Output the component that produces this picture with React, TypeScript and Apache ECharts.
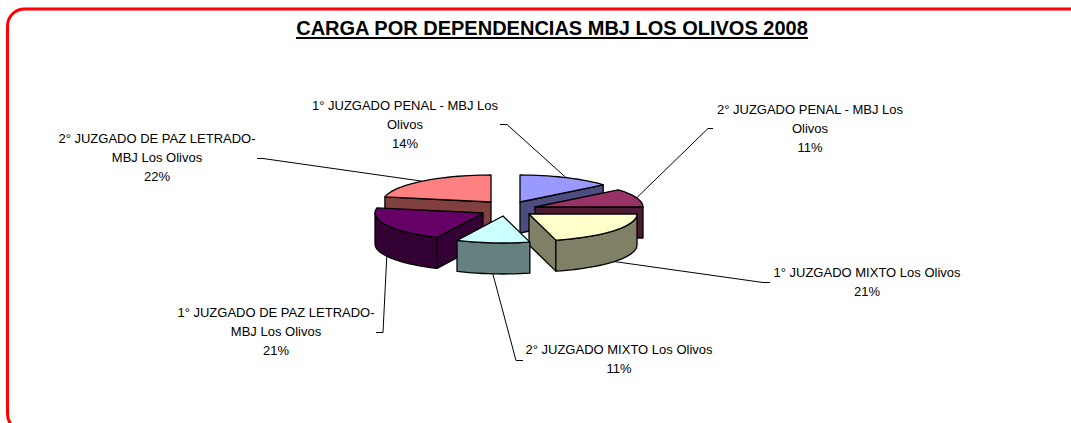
import React, { useEffect, useRef } from "react";
import * as echarts from "echarts";

const TITLE = "CARGA POR DEPENDENCIAS MBJ LOS OLIVOS 2008";
const NAMES = [
  "1° JUZGADO PENAL - MBJ Los\nOlivos",
  "2° JUZGADO PENAL - MBJ Los\nOlivos",
  "1° JUZGADO MIXTO Los Olivos",
  "2° JUZGADO MIXTO Los Olivos",
  "1° JUZGADO DE PAZ LETRADO-\nMBJ Los Olivos",
  "2° JUZGADO DE PAZ LETRADO-\nMBJ Los Olivos",
];
const VALUES = [14, 11, 21, 11, 21, 22];
const TOP_COLORS = ["#9999FF", "#993366", "#FFFFCC", "#CCFFFF", "#660066", "#FF8080"];
const SIDE_COLORS = ["#4D4D80", "#4D1A33", "#808066", "#668080", "#330033", "#804040"];

// layout: exploded apex of each slice, label centre, leader elbow points
const APEX = [[520, 202], [535, 207], [529, 214], [503, 216], [483, 213], [491, 202]];
const LABEL_POS = [[405, 124.5], [810, 128.5], [867, 281.5], [619, 358.5], [276, 331.5], [157, 157.5]];
const ELBOWS = [
  [[500, 124.5], [507, 124.5]],
  [[713, 128.5], [708, 128.5]],
  [[770, 282.5], [763, 282.5]],
  [[523, 360.5], [516, 360.5]],
  [[376, 332.5], [383, 332.5]],
  [[257, 158.5], [263, 158.5]],
];
const DRAW_ORDER = [5, 0, 1, 4, 2, 3];
const RX = 108;
const RY = 27;
const DEPTH = 31;

const total = VALUES.reduce((a, b) => a + b, 0);
const START: number[] = [];
VALUES.reduce((acc, v, i) => {
  START[i] = acc;
  return acc + (v / total) * 360;
}, 0);

function pt(c: number[], deg: number, dy = 0): number[] {
  const r = (deg * Math.PI) / 180;
  return [c[0] + RX * Math.sin(r), c[1] - RY * Math.cos(r) + dy];
}
function arcPts(c: number[], a: number, b: number, dy = 0): number[][] {
  const n = Math.max(2, Math.ceil(Math.abs(b - a) / 3));
  const out: number[][] = [];
  for (let i = 0; i <= n; i++) out.push(pt(c, a + ((b - a) * i) / n, dy));
  return out;
}

function renderSlice(params: any, api: any) {
  const i = api.value(0) as number;
  const value = api.value(1) as number;
  const a0 = START[i];
  const a1 = a0 + (value / total) * 360;
  const c = APEX[i];
  const edge = { stroke: "#000", lineWidth: 1.3, lineJoin: "round" };
  const poly = (points: number[][], fill: string) => ({
    type: "polygon",
    shape: { points },
    style: { fill, ...edge },
  });
  const children: any[] = [];
  const radialFace = (deg: number) => {
    const p = pt(c, deg);
    return poly([c, p, [p[0], p[1] + DEPTH], [c[0], c[1] + DEPTH]], SIDE_COLORS[i]);
  };
  // radial cut faces turned to the viewer
  if (Math.cos(((a0 - 90) * Math.PI) / 180) < -0.001) children.push(radialFace(a0));
  if (Math.cos(((a1 + 90) * Math.PI) / 180) < -0.001) children.push(radialFace(a1));
  // outer wall: only the front half of the ellipse
  const w0 = Math.max(a0, 90);
  const w1 = Math.min(a1, 270);
  if (w1 > w0) {
    children.push(
      poly([...arcPts(c, w0, w1), ...arcPts(c, w1, w0, DEPTH)], SIDE_COLORS[i]),
    );
  }
  // top surface
  children.push(poly([c, ...arcPts(c, a0, a1)], TOP_COLORS[i]));
  // leader line, anchored at the slice's mid angle
  const mid = (a0 + a1) / 2;
  const front = Math.cos((mid * Math.PI) / 180) < 0;
  const anchor = pt(c, mid, front ? DEPTH : 0);
  children.push({
    type: "polyline",
    shape: { points: [...ELBOWS[i], anchor] },
    style: { stroke: "#000", lineWidth: 1, fill: "none" },
    z2: -1,
  });
  // label
  children.push({
    type: "text",
    style: {
      text: `${NAMES[i]}\n${Math.round((value / total) * 100)}%`,
      x: LABEL_POS[i][0],
      y: LABEL_POS[i][1],
      align: "center",
      verticalAlign: "middle",
      fontFamily: "Liberation Sans",
      fontSize: 13,
      lineHeight: 19,
      fill: "#000",
    },
  });
  return { type: "group", children };
}

export default function App() {
  const ref = useRef<HTMLDivElement>(null);
  useEffect(() => {
    document.body.style.margin = "0";
    const chart = echarts.init(ref.current!, null, { renderer: "svg" });
    chart.setOption({
      animation: false,
      backgroundColor: "#fff",
      title: {
        text: TITLE,
        left: 547,
        top: 13,
        padding: 5,
        textAlign: "center",
        textStyle: {
          fontFamily: "Liberation Sans",
          fontWeight: "bold",
          fontSize: 20,
          color: "#000",
        },
      },
      graphic: [
        {
          type: "rect",
          shape: { x: 7.5, y: 9, width: 1120, height: 422, r: 17 },
          style: { fill: "none", stroke: "#f00", lineWidth: 3 },
          silent: true,
        },
        {
          type: "line",
          shape: { x1: 296, y1: 38, x2: 808, y2: 38 },
          style: { stroke: "#000", lineWidth: 2 },
          silent: true,
        },
      ],
      series: [
        {
          type: "custom",
          coordinateSystem: "none",
          silent: true,
          renderItem: renderSlice,
          data: DRAW_ORDER.map((i) => [i, VALUES[i]]),
        },
      ],
    });
    return () => chart.dispose();
  }, []);
  return <div ref={ref} style={{ width: 1071, height: 423, overflow: "hidden" }} />;
}
